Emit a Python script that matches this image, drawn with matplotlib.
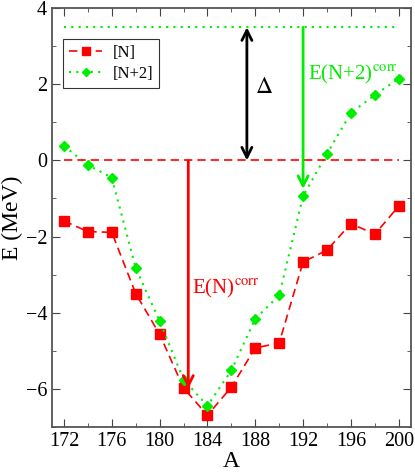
import matplotlib
matplotlib.use("Agg")
import matplotlib.pyplot as plt
from matplotlib.ticker import MultipleLocator

plt.rcParams['font.family'] = ['Liberation Serif', 'DejaVu Serif']
plt.rcParams['mathtext.fontset'] = 'stix'

A = [172, 174, 176, 178, 180, 182, 184, 186, 188, 190, 192, 194, 196, 198, 200]
E_N = [-1.59, -1.87, -1.89, -3.50, -4.57, -5.98, -6.70, -5.96, -4.93, -4.80,
       -2.67, -2.36, -1.66, -1.94, -1.20]
E_N2 = [0.38, -0.12, -0.45, -2.83, -4.22, -5.76, -6.45, -5.52, -4.16, -3.55,
        -0.94, 0.18, 1.25, 1.72, 2.15]
ref_N = 0.0
ref_N2 = 3.5

red = '#ff0000'
green = '#00ee00'

fig = plt.figure(figsize=(4.15, 4.72), dpi=100)
ax = fig.add_axes([0.1253, 0.096, 0.8643, 0.8864])

ax.plot(A, E_N, color=red, ls=(0, (5, 3)), lw=1.2, marker='s', ms=6.5,
        label='[N]')
ax.plot(A, E_N2, color=green, ls=(0, (1, 2.5)), lw=1.5, marker='D', ms=5.5,
        label='[N+2]')
ax.plot([A[0], A[-1]], [ref_N, ref_N], color=red, ls=(0, (5, 3)), lw=1.2)
ax.plot([A[0], A[-1]], [ref_N2, ref_N2], color=green, ls=(0, (1, 2.5)), lw=1.5)

# arrows
ax.annotate('', xy=(187.3, ref_N), xytext=(187.3, ref_N2),
            arrowprops=dict(arrowstyle='<->', color='black', lw=2,
                            mutation_scale=18, shrinkA=0, shrinkB=0))
ax.annotate('', xy=(192.0, -0.75), xytext=(192.0, ref_N2),
            arrowprops=dict(arrowstyle='->', color=green, lw=2,
                            mutation_scale=18, shrinkA=0, shrinkB=0))
ax.annotate('', xy=(182.4, -6.0), xytext=(182.4, ref_N),
            arrowprops=dict(arrowstyle='->', color=red, lw=2,
                            mutation_scale=18, shrinkA=0, shrinkB=0))

ax.text(188.75, 1.92, r'$\Delta$', fontsize=17, ha='center', va='center')
ax.text(192.45, 2.14, r'E(N+2)$^{\mathrm{corr}}$', color=green, fontsize=15,
        ha='left', va='baseline')
ax.text(182.7, -3.5, r'E(N)$^{\mathrm{corr}}$', color=red, fontsize=15,
        ha='left', va='baseline')

ax.set_xlim(171, 201)
ax.set_ylim(-7, 4)
ax.xaxis.set_major_locator(MultipleLocator(4))
ax.xaxis.set_minor_locator(MultipleLocator(2))
ax.yaxis.set_major_locator(MultipleLocator(2))
ax.yaxis.set_minor_locator(MultipleLocator(1))
ax.tick_params(which='both', direction='in', top=True, right=True,
               color='#444444', labelsize=14.5)
ax.tick_params(which='major', length=6)
ax.tick_params(which='minor', length=3)
for s in ax.spines.values():
    s.set_color('#555555')
    s.set_linewidth(1.3)

ax.set_xlabel('A', fontsize=17, labelpad=0)
ax.set_ylabel('E (MeV)', fontsize=17, labelpad=2)

leg = ax.legend(loc='upper left', bbox_to_anchor=(0.031, 0.927),
                borderaxespad=0, fontsize=12, markerscale=0.8,
                frameon=True, fancybox=False, handlelength=2.0,
                borderpad=0.35, labelspacing=0.3, handletextpad=0.6)
leg.get_frame().set_edgecolor('black')
leg.get_frame().set_linewidth(0.8)

fig.savefig('out.png', dpi=100)
